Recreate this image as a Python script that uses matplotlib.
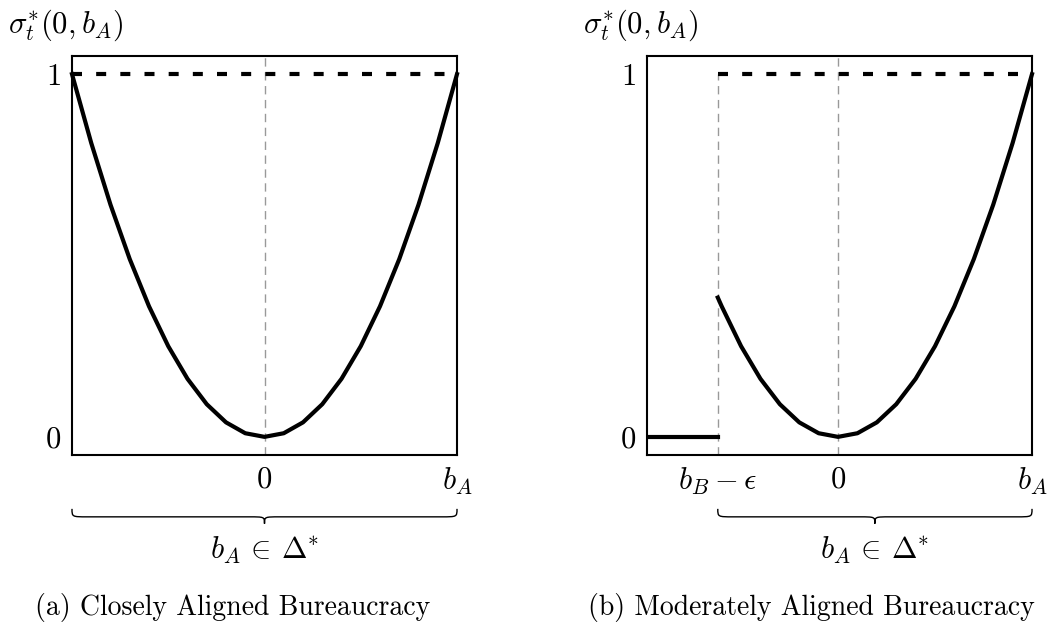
import matplotlib
matplotlib.use("Agg")
import matplotlib.pyplot as plt
from matplotlib.path import Path
from matplotlib.patches import PathPatch
import matplotlib.transforms as mtransforms

plt.rcParams['font.family'] = 'serif'
plt.rcParams['font.serif'] = ['cmr10']
plt.rcParams['mathtext.fontset'] = 'cm'
plt.rcParams['axes.unicode_minus'] = False

# ---- data ----
curve_x = [-1.0, -0.9, -0.8, -0.7, -0.6, -0.5, -0.4, -0.3, -0.2, -0.1, 0.0,
           0.1, 0.2, 0.3, 0.4, 0.5, 0.6, 0.7, 0.8, 0.9, 1.0]
curve_y = [1.0, 0.81, 0.64, 0.49, 0.36, 0.25, 0.16, 0.09, 0.04, 0.01, 0.0,
           0.01, 0.04, 0.09, 0.16, 0.25, 0.36, 0.49, 0.64, 0.81, 1.0]
cutoff = -0.62          # b_B - epsilon
cut_y = 0.384           # curve value at cutoff
upper_level = 1.0
xlim_a = (-1.0, 1.0)
xlim_b = (-0.985, 1.0)
xticks_a = [0.0, 1.0]
xticklabels_a = ['$0$', '$b_A$']
xticks_b = [cutoff, 0.0, 1.0]
xticklabels_b = [r'$b_B - \epsilon$', '$0$', '$b_A$']
yticks = [0.0, 1.0]
yticklabels = ['$0$', '$1$']
ylabel = r'$\sigma_t^{*}(0, b_A)$'
brace_label = r'$b_A \,\in\, \Delta^{*}$'
captions = ['(a) Closely Aligned Bureaucracy', '(b) Moderately Aligned Bureaucracy']

W, H = 1053, 624
fig = plt.figure(figsize=(W / 100, H / 100), dpi=100)

def box(x0, x1, y0=455, y1=56):
    return [x0 / W, (H - y0) / H, (x1 - x0) / W, (y0 - y1) / H]

axA = fig.add_axes(box(72, 457))
axB = fig.add_axes(box(647, 1032))

FS = 22
CFS = 20
BLACK_DASH = (0, (2.4, 3.4))
GRAY_DASH = (0, (6, 4))

def style(ax, xlim, xt, xtl):
    ax.set_xlim(*xlim)
    ax.set_ylim(-0.05, 1.05)
    ax.set_xticks(xt)
    ax.set_xticklabels(xtl, fontsize=FS)
    ax.set_yticks(yticks)
    ax.set_yticklabels(yticklabels, fontsize=FS)
    ax.tick_params(length=0, pad=8)
    for s in ax.spines.values():
        s.set_linewidth(1.5)
    ax.text(-0.165, 1.077, ylabel, transform=ax.transAxes, fontsize=FS,
            ha='left', va='center')

def brace(ax, xa, xb, label):
    tr = mtransforms.blended_transform_factory(ax.transData, ax.transAxes)
    ye, yh, yt = -0.135, -0.155, -0.172
    xm = (xa + xb) / 2
    r = 0.08
    verts = [(xa, ye), (xa, yh), (xa, yh), (xa + r, yh),
             (xm - r, yh),
             (xm, yh), (xm, yh), (xm, yt),
             (xm, yh), (xm, yh), (xm + r, yh),
             (xb - r, yh),
             (xb, yh), (xb, yh), (xb, ye)]
    codes = [Path.MOVETO, Path.CURVE4, Path.CURVE4, Path.CURVE4,
             Path.LINETO,
             Path.CURVE4, Path.CURVE4, Path.CURVE4,
             Path.CURVE4, Path.CURVE4, Path.CURVE4,
             Path.LINETO,
             Path.CURVE4, Path.CURVE4, Path.CURVE4]
    ax.add_patch(PathPatch(Path(verts, codes), transform=tr, fill=False,
                           lw=1.0, color='black', clip_on=False))
    ax.text(xm, -0.2, label, transform=tr, fontsize=FS, ha='center', va='top')

# ---- panel (a) ----
style(axA, xlim_a, xticks_a, xticklabels_a)
axA.axvline(0.0, color='#999999', lw=1.0, ls=GRAY_DASH, zorder=1)
axA.plot(curve_x, curve_y, color='black', lw=3, zorder=3, clip_on=False)
axA.plot([xlim_a[0], xlim_a[1]], [upper_level, upper_level], color='black',
         lw=3, ls=BLACK_DASH, zorder=3, clip_on=False)
brace(axA, xlim_a[0], xlim_a[1], brace_label)

# ---- panel (b) ----
style(axB, xlim_b, xticks_b, xticklabels_b)
axB.axvline(0.0, color='#999999', lw=1.0, ls=GRAY_DASH, zorder=1)
axB.plot([cutoff, cutoff], [-0.05, upper_level], color='#999999', lw=1.0,
         ls=GRAY_DASH, zorder=1)
bx = [cutoff] + [x for x in curve_x if x > cutoff]
by = [cut_y] + [y for x, y in zip(curve_x, curve_y) if x > cutoff]
axB.plot(bx, by, color='black', lw=3, zorder=3, clip_on=False)
axB.plot([xlim_b[0], cutoff], [0.0, 0.0], color='black', lw=3, zorder=3)
axB.plot([cutoff, xlim_b[1]], [upper_level, upper_level], color='black',
         lw=3, ls=BLACK_DASH, zorder=3, clip_on=False)
brace(axB, cutoff, xlim_b[1], brace_label)

# ---- captions ----
fig.text(35 / W, 1 - 615 / H, captions[0], fontsize=CFS, ha='left', va='baseline')
fig.text(1035 / W, 1 - 615 / H, captions[1], fontsize=CFS, ha='right', va='baseline')

fig.savefig('out.png', dpi=100)
